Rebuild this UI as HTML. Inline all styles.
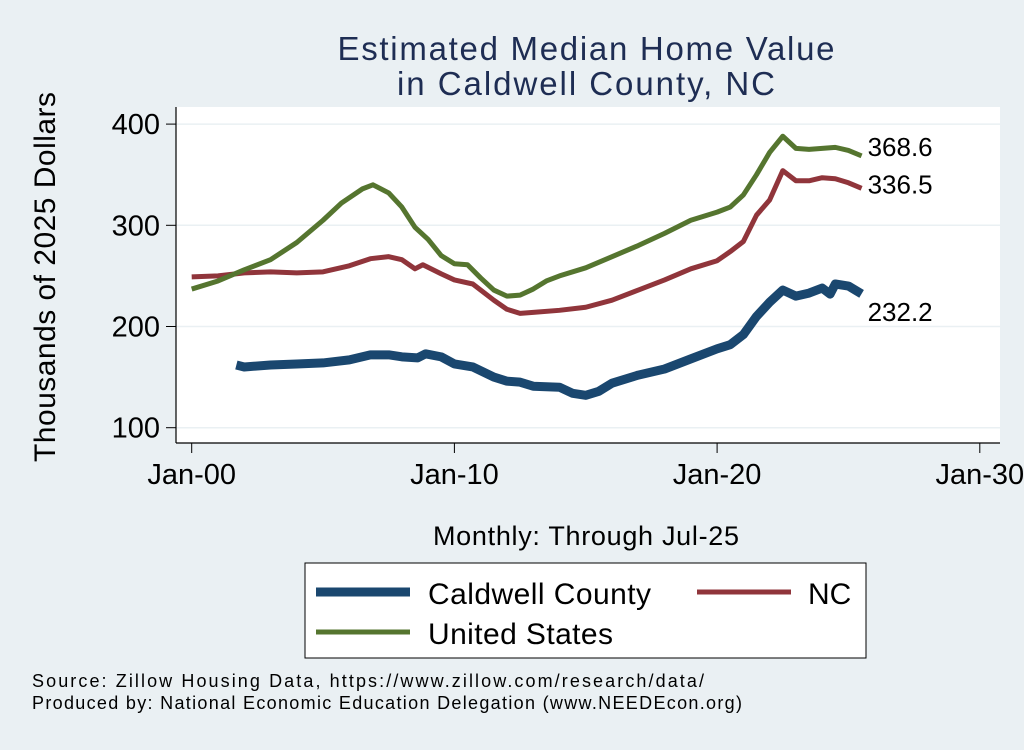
<!DOCTYPE html>
<html><head><meta charset="utf-8"><style>
body{margin:0;background:#eaf0f3;font-family:"Liberation Sans",sans-serif;}
svg text{font-family:"Liberation Sans",sans-serif;}
</style></head><body>
<svg id="chart" width="1024" height="745" xmlns="http://www.w3.org/2000/svg">
<rect x="0" y="0" width="1024" height="745" fill="#eaf0f3"/>
<text x="586" y="60" text-anchor="middle" font-size="33" textLength="497" fill="#1e2d53">Estimated Median Home Value</text>
<text x="586" y="95" text-anchor="middle" font-size="33" textLength="378" fill="#1e2d53">in Caldwell County, NC</text>
<rect x="176" y="107" width="824" height="336" fill="#fff"/>
<g id="grid"></g>
<line x1="176" y1="107" x2="176" y2="443" stroke="#000" stroke-width="1.2"/>
<line x1="176" y1="443" x2="1000" y2="443" stroke="#000" stroke-width="1.2"/>
<g id="ticks"></g>
<g id="series"></g>
<g id="labels"></g>
<text transform="translate(55,277) rotate(-90)" text-anchor="middle" font-size="30" textLength="370" fill="#000">Thousands of 2025 Dollars</text>
<text x="586" y="545" text-anchor="middle" font-size="27" textLength="306" fill="#000">Monthly: Through Jul-25</text>
<g>
<rect x="305" y="563" width="561" height="95" fill="#fff" stroke="#000" stroke-width="1"/>
<line x1="316" y1="592" x2="410" y2="592" stroke="#1a476f" stroke-width="9"/>
<text x="428" y="604" font-size="30" textLength="223" fill="#000">Caldwell County</text>
<line x1="697" y1="592" x2="791" y2="592" stroke="#90353b" stroke-width="5"/>
<text x="808" y="604" font-size="30" fill="#000">NC</text>
<line x1="316" y1="632" x2="410" y2="632" stroke="#55752f" stroke-width="5"/>
<text x="428" y="644" font-size="30" textLength="185" fill="#000">United States</text>
</g>
<text x="32" y="687" font-size="18" textLength="672" fill="#000">Source: Zillow Housing Data, https://www.zillow.com/research/data/</text>
<text x="32" y="709" font-size="18" textLength="710" fill="#000">Produced by: National Economic Education Delegation (www.NEEDEcon.org)</text>
</svg>
<script>
const yTicks=[100,200,300,400];
const xTickYears=[2000,2010,2020,2030];
const xTickLabels=["Jan-00","Jan-10","Jan-20","Jan-30"];
const usYears=[2000,2001,2002,2003,2004,2005,2005.7,2006.5,2006.9,2007.5,2008,2008.5,2009,2009.5,2010,2010.5,2011,2011.5,2012,2012.5,2013,2013.5,2014,2015,2016,2017,2018,2019,2020,2020.5,2021,2021.5,2022,2022.5,2023,2023.5,2024,2024.5,2025,2025.5];
const usValues=[237,245,256,266,283,305,322,336,340,332,318,298,286,270,262,261,248,236,230,231,237,245,250,258,269,280,292,305,313,318,330,350,372,388,376,375,376,377,374,368.6];
const ncYears=[2000,2001,2002,2003,2004,2005,2006,2006.8,2007.5,2008,2008.5,2008.8,2009.5,2010,2010.7,2011.5,2012,2012.5,2013,2014,2015,2016,2017,2018,2019,2020,2020.5,2021,2021.5,2022,2022.5,2023,2023.5,2024,2024.5,2025,2025.5];
const ncValues=[249,250,253,254,253,254,260,267,269,266,257,261,252,246,242,226,217,213,214,216,219,226,236,246,257,265,274,284,310,325,354,344,344,347,346,342,336.5];
const cwYears=[2001.7,2002,2003,2004,2005,2006,2006.8,2007.5,2008,2008.6,2008.9,2009.5,2010,2010.7,2011.5,2012,2012.5,2013,2014,2014.5,2015,2015.5,2016,2017,2018,2019,2020,2020.5,2021,2021.5,2022,2022.5,2023,2023.5,2024,2024.3,2024.5,2025,2025.5];
const cwValues=[162,160,162,163,164,167,172,172,170,169,173,170,163,160,150,146,145,141,140,134,132,136,144,152,158,168,178,182,192,210,224,236,230,233,238,232,242,240,232.2];
const endLabels=["368.6","336.5","232.2"];
const NS="http://www.w3.org/2000/svg";
function xs(y){return 191.7+(y-2000)*26.27;}
function ys(v){return 427.7-(v-100)*1.012;}
const grid=document.getElementById('grid'),ticks=document.getElementById('ticks'),series=document.getElementById('series'),labels=document.getElementById('labels');
yTicks.forEach(v=>{
 const g=document.createElementNS(NS,'line');g.setAttribute('x1',176);g.setAttribute('x2',1000);g.setAttribute('y1',ys(v));g.setAttribute('y2',ys(v));g.setAttribute('stroke','#eaf0f3');g.setAttribute('stroke-width',1.5);
 
 
 grid.appendChild(g);
 const t=document.createElementNS(NS,'line');t.setAttribute('x1',166);t.setAttribute('x2',176);t.setAttribute('y1',ys(v));t.setAttribute('y2',ys(v));t.setAttribute('stroke','#000');
 
 
 ticks.appendChild(t);
 const l=document.createElementNS(NS,'text');l.setAttribute('x',160);l.setAttribute('y',ys(v)+10);l.setAttribute('text-anchor','end');l.setAttribute('font-size',29);l.textContent=v;
 
 
 ticks.appendChild(l);
});
xTickYears.forEach((yr,i)=>{
 const t=document.createElementNS(NS,'line');t.setAttribute('x1',xs(yr));t.setAttribute('x2',xs(yr));t.setAttribute('y1',443);t.setAttribute('y2',453);t.setAttribute('stroke','#000');
 
 
 ticks.appendChild(t);
 const l=document.createElementNS(NS,'text');l.setAttribute('x',xs(yr));l.setAttribute('y',484);l.setAttribute('text-anchor','middle');l.setAttribute('font-size',29);l.textContent=xTickLabels[i];
 
 
 ticks.appendChild(l);
});
function line(xa,va,color,w,name){
 const p=document.createElementNS(NS,'polyline');
 p.setAttribute('points',xa.map((x,i)=>xs(x)+','+ys(va[i])).join(' '));
 p.setAttribute('fill','none');p.setAttribute('stroke',color);p.setAttribute('stroke-width',w);p.setAttribute('stroke-linejoin','round');
 
 
 series.appendChild(p);
}
line(cwYears,cwValues,'#1a476f',9,'caldwell-line');
line(ncYears,ncValues,'#90353b',5,'nc-line');
line(usYears,usValues,'#55752f',5,'us-line');
const ends=[[usYears,usValues,0],[ncYears,ncValues,5],[cwYears,cwValues,27]];
ends.forEach((e,i)=>{
 const yv=e[1][e[1].length-1];
 const l=document.createElementNS(NS,'text');l.setAttribute('x',xs(e[0][e[0].length-1])+6);l.setAttribute('y',ys(yv)+e[2]);l.setAttribute('font-size',26);l.textContent=endLabels[i];
 
 
 labels.appendChild(l);
});
</script>
</body></html>
